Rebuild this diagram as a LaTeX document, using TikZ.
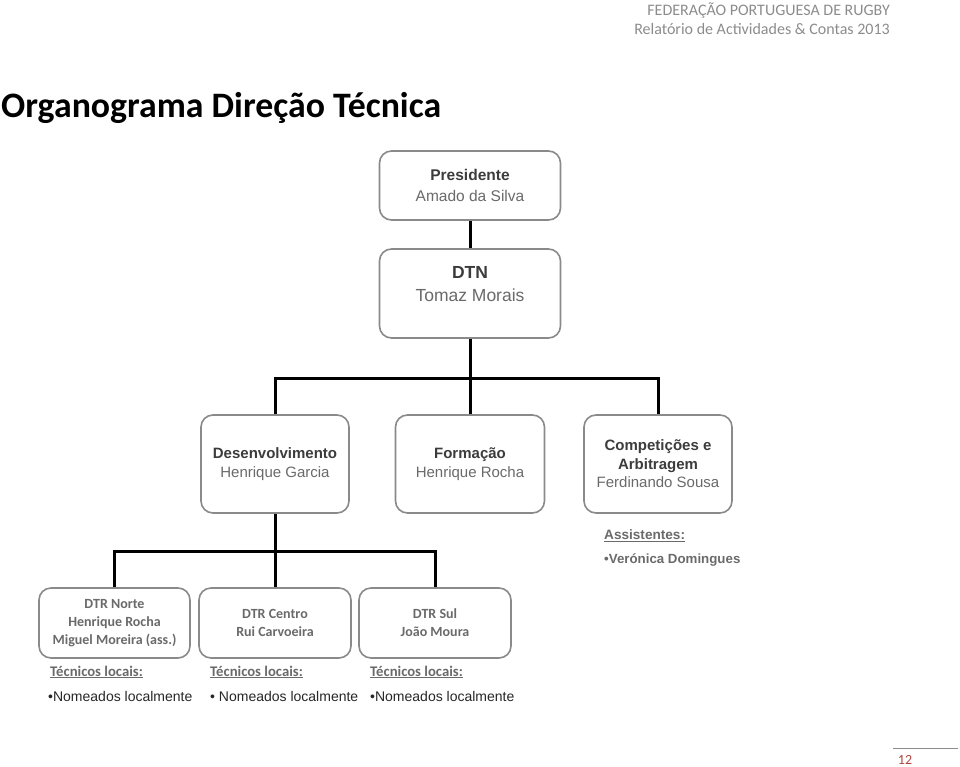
\documentclass[tikz,border=0pt]{standalone}
\usepackage{fontspec}
\setmainfont{Liberation Sans}
\newfontfamily\calib{Carlito}
\definecolor{hdrgray}{HTML}{8C8C8C}
\definecolor{boxline}{HTML}{8A8A8A}
\definecolor{txtdark}{HTML}{3C3C3C}
\definecolor{txtmid}{HTML}{6A6A6A}
\definecolor{pagered}{HTML}{B0463F}
\newcommand{\tb}[1]{\textbf{\textcolor{txtdark}{#1}}}
\newcommand{\tn}[1]{\textcolor{txtmid}{#1}}
\begin{document}
\begin{tikzpicture}[x=1pt,y=-1pt,
  orgbox/.style={draw=boxline, line width=1.6pt, rounded corners=12pt, fill=white, align=center, inner sep=2pt},
  conn/.style={line width=3pt, black},
  lbl/.style={anchor=west, inner sep=0pt}]
\useasboundingbox (0,0) rectangle (960,767);
% header
\node[anchor=east, inner sep=0pt, text=hdrgray, font=\calib\fontsize{16}{18}\selectfont] (h1) at (890,10) {FEDERAÇÃO PORTUGUESA DE RUGBY};
\node[anchor=east, inner sep=0pt, text=hdrgray, font=\calib\fontsize{16}{18}\selectfont] (h2) at (890,29) {Relatório de Actividades \& Contas 2013};
% title
\node[anchor=west, inner sep=0pt, font=\calib\bfseries\fontsize{35.8}{38}\selectfont] (title) at (1,108) {Organograma Direção Técnica};
% boxes
\node[orgbox, minimum width=181pt, minimum height=69pt, font=\fontsize{15.5}{21}\selectfont] (pres) at (470,185.5)
  {\tb{Presidente}\\\tn{Amado da Silva}};
\node[orgbox, minimum width=181pt, minimum height=89pt, font=\fontsize{17.5}{23}\selectfont] (dtn) at (470,293.5)
  {\tb{DTN}\\\tn{Tomaz Morais}\\[-3pt]\mbox{}};
\node[orgbox, minimum width=148pt, minimum height=98pt, font=\fontsize{15}{19.5}\selectfont] (des) at (275,464)
  {\tb{Desenvolvimento}\\\tn{Henrique Garcia}};
\node[orgbox, minimum width=149pt, minimum height=98pt, font=\fontsize{15}{19.5}\selectfont] (form) at (470,464)
  {\tb{Formação}\\\tn{Henrique Rocha}};
\node[orgbox, minimum width=148pt, minimum height=98pt, font=\fontsize{15}{18.5}\selectfont] (comp) at (658,464)
  {\tb{Competições e}\\\tb{Arbitragem}\\\tn{Ferdinando Sousa}};
\node[orgbox, minimum width=151pt, minimum height=70pt, font=\calib\bfseries\fontsize{14}{18}\selectfont, text=txtmid] (norte) at (114.5,623)
  {DTR Norte\\Henrique Rocha\\Miguel Moreira (ass.)};
\node[orgbox, minimum width=152pt, minimum height=70pt, font=\calib\bfseries\fontsize{14}{18}\selectfont, text=txtmid] (centro) at (275,623)
  {DTR Centro\\Rui Carvoeira};
\node[orgbox, minimum width=152pt, minimum height=70pt, font=\calib\bfseries\fontsize{14}{18}\selectfont, text=txtmid] (sul) at (435,623)
  {DTR Sul\\João Moura};
% connectors
\coordinate (bus1) at (470,378);
\coordinate (bus2) at (275,551);
\draw[conn] (pres.south) -- (dtn.north);
\draw[conn] (dtn.south) -- (bus1);
\draw[conn] (des.north) -- (des.north |- bus1) -- (comp.north |- bus1) -- (comp.north);
\draw[conn] (bus1) -- (form.north);
\draw[conn] (des.south) -- (bus2);
\draw[conn] (norte.north) -- (norte.north |- bus2) -- (sul.north |- bus2) -- (sul.north);
\draw[conn] (bus2) -- (centro.north);
% assistants
\node[lbl, text=txtmid, font=\bfseries\fontsize{13.6}{15}\selectfont] (ass) at (604,536) {\underline{Assistentes:}};
\node[lbl, text=txtmid, font=\bfseries\fontsize{13.3}{15}\selectfont] (vero) at (604,560) {•Verónica Domingues};
% tecnicos
\node[lbl, text=txtmid, font=\calib\bfseries\fontsize{14.7}{17}\selectfont] (t1) at (50,672) {\underline{Técnicos locais:}};
\node[lbl, text=txtmid, font=\calib\bfseries\fontsize{14.7}{17}\selectfont] (t2) at (210,672) {\underline{Técnicos locais:}};
\node[lbl, text=txtmid, font=\calib\bfseries\fontsize{14.7}{17}\selectfont] (t3) at (370,672) {\underline{Técnicos locais:}};
\node[lbl, text=black!85, font=\fontsize{14}{16}\selectfont] (n1) at (48,696) {•Nomeados localmente};
\node[lbl, text=black!85, font=\fontsize{14}{16}\selectfont] (n2) at (210,696) {• Nomeados localmente};
\node[lbl, text=black!85, font=\fontsize{14}{16}\selectfont] (n3) at (370,696) {•Nomeados localmente};
% page number
\coordinate (pl1) at (893,748);
\coordinate (pl2) at (958,748);
\draw[black!45, line width=0.8pt] (pl1) -- (pl2);
\node[inner sep=0pt, text=pagered, font=\calib\fontsize{14}{16}\selectfont] (pnum) at (905,760) {12};
\end{tikzpicture}
\end{document}
